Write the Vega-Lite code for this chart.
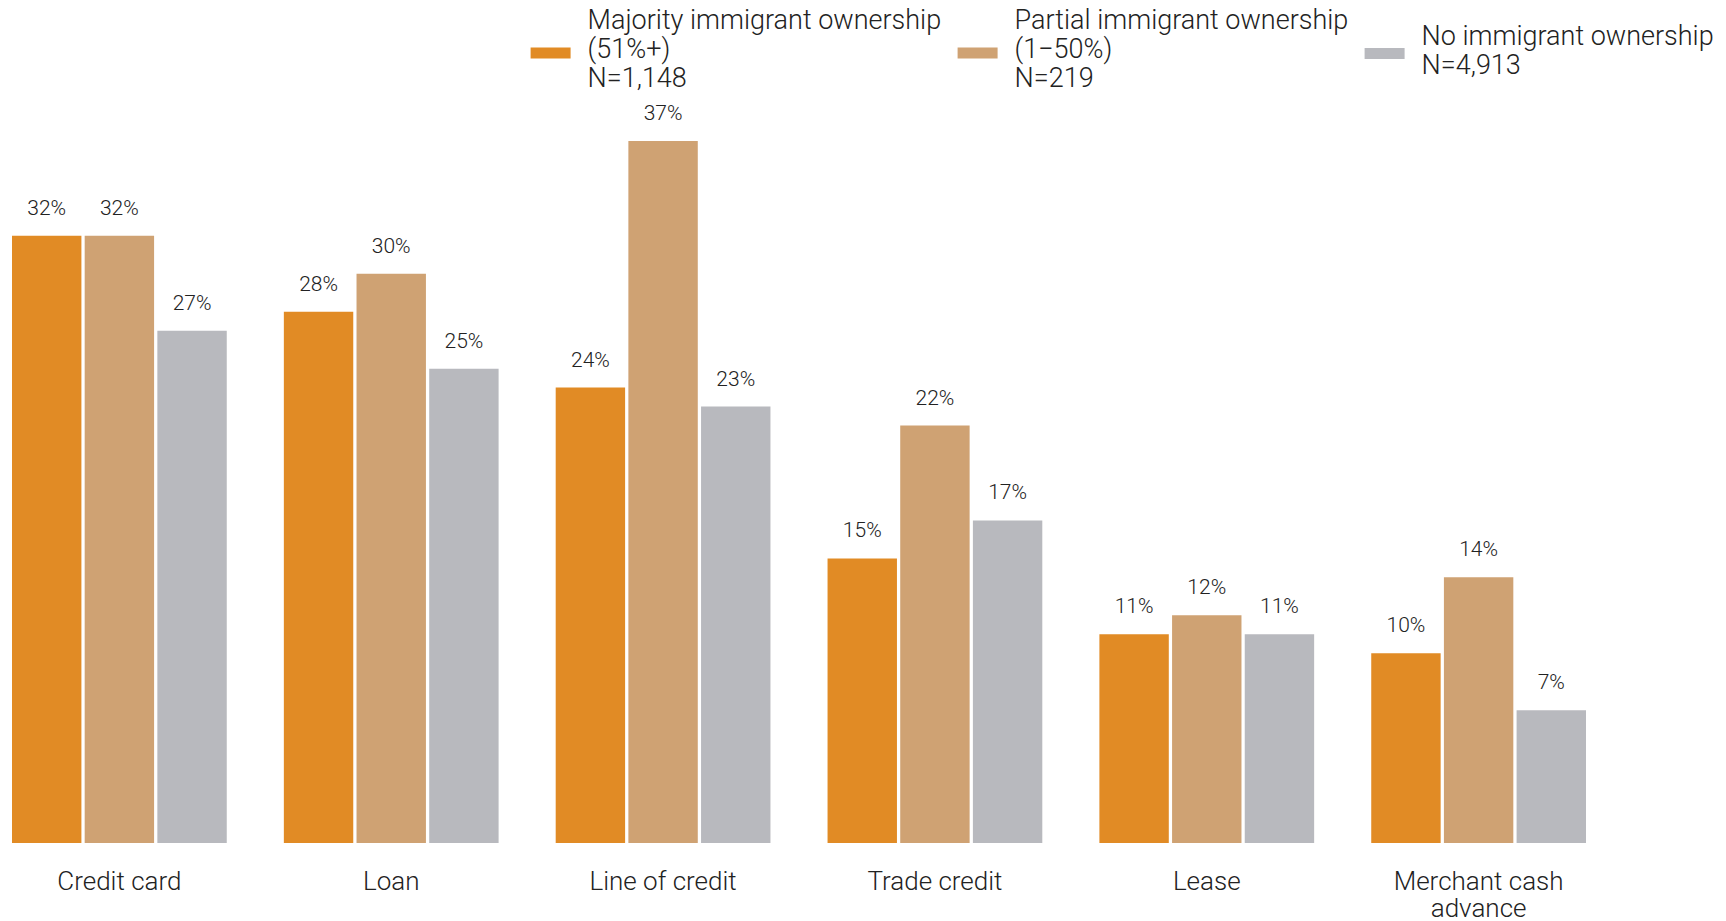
{
  "$schema": "https://vega.github.io/schema/vega-lite/v6.json",
  "autosize": {"type": "none"},
  "padding": {"left": 12, "top": 84, "right": 140, "bottom": 78},
  "width": 1574,
  "height": 759,
  "config": {
    "view": {"stroke": null},
    "font": "Roboto"
  },
  "data": {
    "values": [
      {"product": "Credit card", "group": "Majority", "value": 0.32},
      {"product": "Credit card", "group": "Partial", "value": 0.32},
      {"product": "Credit card", "group": "None", "value": 0.27},
      {"product": "Loan", "group": "Majority", "value": 0.28},
      {"product": "Loan", "group": "Partial", "value": 0.30},
      {"product": "Loan", "group": "None", "value": 0.25},
      {"product": "Line of credit", "group": "Majority", "value": 0.24},
      {"product": "Line of credit", "group": "Partial", "value": 0.37},
      {"product": "Line of credit", "group": "None", "value": 0.23},
      {"product": "Trade credit", "group": "Majority", "value": 0.15},
      {"product": "Trade credit", "group": "Partial", "value": 0.22},
      {"product": "Trade credit", "group": "None", "value": 0.17},
      {"product": "Lease", "group": "Majority", "value": 0.11},
      {"product": "Lease", "group": "Partial", "value": 0.12},
      {"product": "Lease", "group": "None", "value": 0.11},
      {"product": "Merchant cash advance", "group": "Majority", "value": 0.10},
      {"product": "Merchant cash advance", "group": "Partial", "value": 0.14},
      {"product": "Merchant cash advance", "group": "None", "value": 0.07}
    ]
  },
  "encoding": {
    "x": {
      "field": "product",
      "type": "nominal",
      "sort": null,
      "scale": {"paddingInner": 0.21, "paddingOuter": 0},
      "axis": {
        "title": null,
        "domain": false,
        "ticks": false,
        "labelAngle": 0,
        "labelFontSize": 26,
        "labelFontWeight": 300,
        "labelColor": "#222222",
        "labelPadding": 25,
        "labelLineHeight": 27,
        "labelExpr": "datum.label == 'Merchant cash advance' ? ['Merchant cash', 'advance'] : datum.label"
      }
    },
    "xOffset": {
      "field": "group",
      "type": "nominal",
      "sort": ["Majority", "Partial", "None"],
      "scale": {"paddingInner": 0.045, "paddingOuter": 0}
    },
    "y": {
      "field": "value",
      "type": "quantitative",
      "scale": {"domain": [0, 0.4], "nice": false},
      "axis": null
    }
  },
  "layer": [
    {
      "mark": {"type": "bar"},
      "encoding": {
        "color": {
          "field": "group",
          "type": "nominal",
          "sort": ["Majority", "Partial", "None"],
          "scale": {
            "domain": ["Majority", "Partial", "None"],
            "range": ["#E18B25", "#CFA273", "#B8B9BE"]
          },
          "legend": {
            "orient": "none",
            "legendX": 518.6,
            "legendY": -51,
            "direction": "horizontal",
            "title": null,
            "symbolType": "M-1,-0.275H1V0.275H-1Z",
            "symbolSize": 1600,
            "symbolStrokeWidth": 0,
            "symbolOpacity": 1,
            "labelFontSize": 27,
            "labelFontWeight": 300,
            "labelLineHeight": 30,
            "labelColor": "#222222",
            "labelOffset": 17,
            "labelLimit": 0,
            "columnPadding": 16,
            "labelExpr": "datum.label == 'Majority' ? ['Majority immigrant ownership', '(51%+)', 'N=1,148'] : datum.label == 'Partial' ? ['Partial immigrant ownership', '(1\u221250%)', 'N=219'] : ['No immigrant ownership', 'N=4,913']",
            "encode": {
              "labels": {
                "update": {
                  "dy": {"signal": "datum.label == 'None' ? -30 : -32"}
                }
              },
              "symbols": {
                "update": {
                  "shape": {"signal": "datum.label == 'None' ? 'M-1,-0.925H1V-0.375H-1Z' : 'M-1,-0.275H1V0.275H-1Z'"}
                }
              }
            }
          }
        }
      }
    },
    {
      "mark": {"type": "text", "baseline": "middle", "dy": -27, "fontSize": 21, "fontWeight": 300},
      "encoding": {
        "text": {"field": "value", "type": "quantitative", "format": ".0%"},
        "color": {"value": "#222222"}
      }
    }
  ]
}
